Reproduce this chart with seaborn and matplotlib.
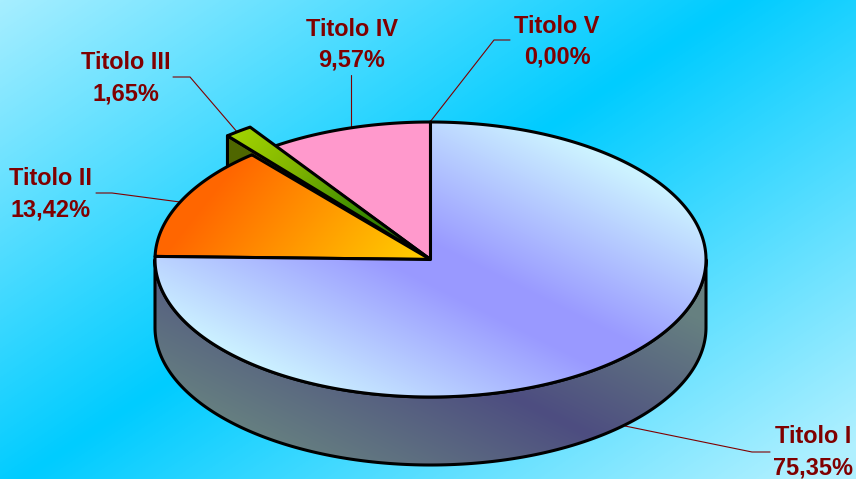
import numpy as np
import matplotlib
matplotlib.use("Agg")
import matplotlib.pyplot as plt
from matplotlib.patches import Polygon
import seaborn as sns

# ---- data
labels = ["Titolo I", "Titolo II", "Titolo III", "Titolo IV", "Titolo V"]
shares = [75.35, 13.42, 1.65, 9.57, 0.00]

# ---- layout (pixels)
W, H = 856, 479
CX, CY, RX, RY, DEPTH = 430.5, 259.5, 275.5, 137.5, 68
EXPLODE = (-24.5, -19)
LW = 2.2
RED = "#800000"
TEXT_POS = [(813, 443, 475), (51, 185, 217), (126, 69, 100), (352, 36, 66), (557, 33, 63)]
LEADERS = [
    [(625, 426), (752, 452), (770, 452)],
    [(96, 193), (112, 193), (180, 202)],
    [(173, 77), (190, 77), (238, 133)],
    [(351, 75), (351, 127)],
    [(510, 40), (494, 40), (430, 122)],
]

sns.set_theme(style="white")
plt.rcParams["font.family"] = ["Liberation Sans", "DejaVu Sans"]

fig = plt.figure(figsize=(W / 100, H / 100), dpi=100)
ax = fig.add_axes([0, 0, 1, 1])
ax.set_xlim(0, W)
ax.set_ylim(H, 0)
ax.axis("off")

xx, yy = np.meshgrid(np.arange(W) + 0.5, np.arange(H) + 0.5)


def paint(field, colors, clip=None, z=1):
    cmap = sns.blend_palette(colors, as_cmap=True)
    im = ax.imshow(np.clip(field, 0, 1), cmap=cmap, vmin=0, vmax=1, extent=(0, W, H, 0),
                   aspect="auto", interpolation="bilinear", zorder=z)
    if clip is not None:
        im.set_clip_path(clip)
    return im


def rim(t0, t1, n=200, dx=0, dy=0):
    t = np.radians(np.linspace(t0, t1, n))
    return np.column_stack([CX + RX * np.cos(t) + dx, CY - RY * np.sin(t) + dy])


def face(pts, colors, field, z):
    edge = Polygon(pts, closed=True, fc="none", ec="black", lw=LW, joinstyle="round", zorder=z + 0.5)
    ax.add_patch(edge)
    clip = Polygon(pts, closed=True, transform=ax.transData)
    paint(field, colors, clip=clip, z=z)


# angles: clockwise from 12 o'clock
fr = np.array(shares) / sum(shares) * 360
ends = 90 - np.cumsum(fr)
starts = ends + fr
centre = np.array([[CX, CY]])

# background
bg = np.abs(0.667 * xx + yy - 493) / 520
paint(bg, ["#00ccff", "#b0f0ff"], z=0)

# Titolo IV (pink)
pts = np.vstack([centre, rim(starts[3], ends[3])])
ax.add_patch(Polygon(pts, closed=True, fc="#ff99cc", ec="black", lw=LW, joinstyle="round", zorder=2))

# Titolo III (exploded, green)
r3 = rim(starts[2], ends[2], dx=EXPLODE[0], dy=EXPLODE[1])
side3 = np.array([r3[0], centre[0], centre[0] + [0, DEPTH], r3[0] + [0, DEPTH]])
ax.add_patch(Polygon(side3, closed=True, fc="#4f6600", ec="black", lw=LW, joinstyle="round", zorder=3))
green = (0.75 * (xx - 235) + 0.65 * (yy - 130)) / 215
face(np.vstack([centre, r3]), ["#a2d400", "#7fb300", "#3f8f00", "#226600"], green, 4)

# Titolo II (orange)
orange = 0.00389 * (xx - 177) + 0.00307 * (yy - 237)
face(np.vstack([centre, rim(starts[1], ends[1])]), ["#ff6600", "#ff9900", "#ffcc00"], orange, 5)

# Titolo I: side wall and top
wall = np.vstack([rim(180, 360), rim(360, 180, dy=DEPTH)])
wall_field = np.abs(0.5 * xx - yy + 140) / 170
face(wall, ["#4d4d80", "#668080"], wall_field, 6)
top = np.vstack([centre, rim(starts[0], ends[0], n=500)])
blue = np.maximum(np.abs(0.5 * xx - yy + 48) - 20, 0) / 170
face(top, ["#9999ff", "#ccf2ff"], blue, 7)

# leader lines
for path in LEADERS:
    p = np.array(path)
    ax.plot(p[:, 0], p[:, 1], color=RED, lw=0.8, zorder=1.5, solid_joinstyle="miter")

# labels
for name, val, (x, y1, y2) in zip(labels, shares, TEXT_POS):
    pct = f"{val:.2f}%".replace(".", ",")
    for s, y in ((name, y1), (pct, y2)):
        ax.text(x, y, s, color=RED, fontsize=16.9, fontweight="bold", ha="center", va="baseline", zorder=9)

fig.savefig("out.png", dpi=100)
